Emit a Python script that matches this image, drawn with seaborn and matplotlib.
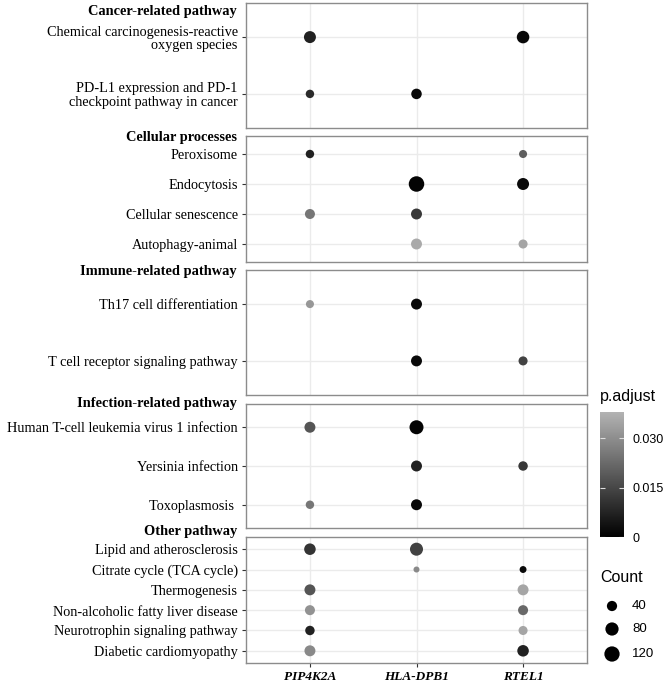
import numpy as np
import pandas as pd
import matplotlib
matplotlib.use('Agg')
import matplotlib.pyplot as plt
import seaborn as sns
from matplotlib.colors import LinearSegmentedColormap, Normalize

# --- data ---
genes = ['PIP4K2A', 'HLA-DPB1', 'RTEL1']
groups = ['Cancer-related pathway', 'Cellular processes', 'Immune-related pathway',
          'Infection-related pathway', 'Other pathway']
group_terms = [
    ['Chemical carcinogenesis-reactive\noxygen species',
     'PD-L1 expression and PD-1\ncheckpoint pathway in cancer'],
    ['Peroxisome', 'Endocytosis', 'Cellular senescence', 'Autophagy-animal'],
    ['Th17 cell differentiation', 'T cell receptor signaling pathway'],
    ['Human T-cell leukemia virus 1 infection', 'Yersinia infection', 'Toxoplasmosis '],
    ['Lipid and atherosclerosis', 'Citrate cycle (TCA cycle)', 'Thermogenesis',
     'Non-alcoholic fatty liver disease', 'Neurotrophin signaling pathway',
     'Diabetic cardiomyopathy'],
]

# one entry per dot: (group index, term index within group, gene index)
pt_group = [0, 0, 0, 0,
            1, 1, 1, 1, 1, 1, 1, 1,
            2, 2, 2, 2,
            3, 3, 3, 3, 3, 3,
            4, 4, 4, 4, 4, 4, 4, 4, 4, 4, 4, 4]
pt_term = [0, 0, 1, 1,
           0, 0, 1, 1, 2, 2, 3, 3,
           0, 0, 1, 1,
           0, 0, 1, 1, 2, 2,
           0, 0, 1, 1, 2, 2, 3, 3, 4, 4, 5, 5]
pt_gene = [0, 2, 0, 1,
           0, 2, 1, 2, 0, 1, 1, 2,
           0, 1, 1, 2,
           0, 1, 1, 2, 0, 1,
           0, 1, 1, 2, 0, 2, 0, 2, 0, 2, 0, 2]
pt_count = [61, 69, 26, 43,
            26, 24, 125, 61, 38, 48, 48, 30,
            24, 48, 48, 30,
            48, 94, 48, 33, 26, 48,
            55, 77, 19, 20, 48, 48, 38, 38, 33, 30, 48, 55]
pt_padj = [0.007, 0.002, 0.009, 0.002,
           0.007, 0.020, 0.001, 0.002, 0.025, 0.012, 0.036, 0.035,
           0.032, 0.002, 0.002, 0.014,
           0.018, 0.001, 0.007, 0.012, 0.025, 0.002,
           0.011, 0.014, 0.029, 0.002, 0.018, 0.035, 0.031, 0.022, 0.007, 0.035, 0.029, 0.007]

legend_counts = [40, 80, 120]
cbar_ticks = [0, 0.015, 0.030]
cbar_labels = ['0', '0.015', '0.030']

df = pd.DataFrame({'group': pt_group, 'term': pt_term, 'gene': pt_gene,
                   'count': pt_count, 'padj': pt_padj})

# --- style ---
cmap = LinearSegmentedColormap.from_list('padj', ['#000000', '#b3b3b3'])
norm = Normalize(0, 0.038)
cmin, cmax = min(pt_count), max(pt_count)


def dot_area(c):
    # ggplot-like area palette: diameter grows with sqrt of rescaled count
    d_px = 6 + 9.5 * np.sqrt(max(c - cmin, 0) / (cmax - cmin))
    return (d_px * 0.72) ** 2


size_map = {c: dot_area(c) for c in set(pt_count)}

W, H = 666, 686
fig = plt.figure(figsize=(W / 100, H / 100), dpi=100)
panels = [(3, 128), (136, 262), (270, 395), (404, 528), (537, 663)]
left, right = 246, 587
strip_y = [12, 137, 271, 404, 532]
border = '#8c8c8c'

for g, (top, bot) in enumerate(panels):
    ax = fig.add_axes([left / W, 1 - bot / H, (right - left) / W, (bot - top) / H])
    sub = df[df['group'] == g]
    sns.scatterplot(data=sub, x='gene', y='term', hue='padj', size='count',
                    palette=cmap, hue_norm=norm, sizes=size_map,
                    edgecolor='none', linewidth=0, legend=False, ax=ax, zorder=3)
    n = len(group_terms[g])
    ax.set_xlim(-0.6, len(genes) - 0.4)
    ax.set_ylim(n - 0.4, -0.6)
    ax.set_yticks(range(n))
    ax.set_yticklabels(group_terms[g], fontsize=10.3, family='Liberation Serif',
                       linespacing=1.05)
    ax.set_xticks(range(len(genes)))
    ax.grid(True, color='#ebebeb', linewidth=1)
    ax.set_axisbelow(True)
    ax.set_xlabel('')
    ax.set_ylabel('')
    for s in ax.spines.values():
        s.set_color(border)
        s.set_linewidth(1)
    ax.tick_params(axis='y', length=3, color='#333333', pad=3)
    if g == len(panels) - 1:
        ax.set_xticklabels(genes, fontsize=9.5, family='Liberation Serif',
                           fontweight='bold', style='italic')
        ax.tick_params(axis='x', length=3, color='#333333', pad=3)
    else:
        ax.set_xticklabels([])
        ax.tick_params(axis='x', length=0)
    fig.text(237 / W, 1 - strip_y[g] / H, groups[g], ha='right', va='center',
             fontsize=10.4, family='Liberation Serif', fontweight='bold')

# --- colorbar legend ---
cax = fig.add_axes([600 / W, 1 - 537 / H, 24 / W, 125 / H])
sm = plt.cm.ScalarMappable(cmap=cmap, norm=norm)
cb = fig.colorbar(sm, cax=cax)
cb.outline.set_visible(False)
cb.set_ticks(cbar_ticks)
cb.set_ticklabels(cbar_labels)
cax.tick_params(length=0, labelsize=9, pad=6)
for lab in cax.get_yticklabels():
    lab.set_family('Liberation Sans')
for v in cbar_ticks:
    cax.hlines(v, 0, 0.2, color='#dddddd', linewidth=0.8)
    cax.hlines(v, 0.8, 1, color='#dddddd', linewidth=0.8)
fig.text(600 / W, 1 - 396 / H, 'p.adjust', ha='left', va='center',
         fontsize=11.5, family='Liberation Sans')

# --- size legend ---
fig.text(600 / W, 1 - 577 / H, 'Count', ha='left', va='center',
         fontsize=11.5, family='Liberation Sans')
lax = fig.add_axes([595 / W, 1 - 668 / H, 70 / W, 75 / H])
lax.set_xlim(0, 70)
lax.set_ylim(75, 0)
lax.axis('off')
ly = [13, 36, 61]
lax.scatter([17] * len(legend_counts), ly,
            s=[dot_area(c) for c in legend_counts], color='black',
            edgecolor='none')
for yy, c in zip(ly, legend_counts):
    lax.text(37, yy, str(c), ha='left', va='center', fontsize=9.5,
             family='Liberation Sans')

fig.savefig('out.png', dpi=100)
